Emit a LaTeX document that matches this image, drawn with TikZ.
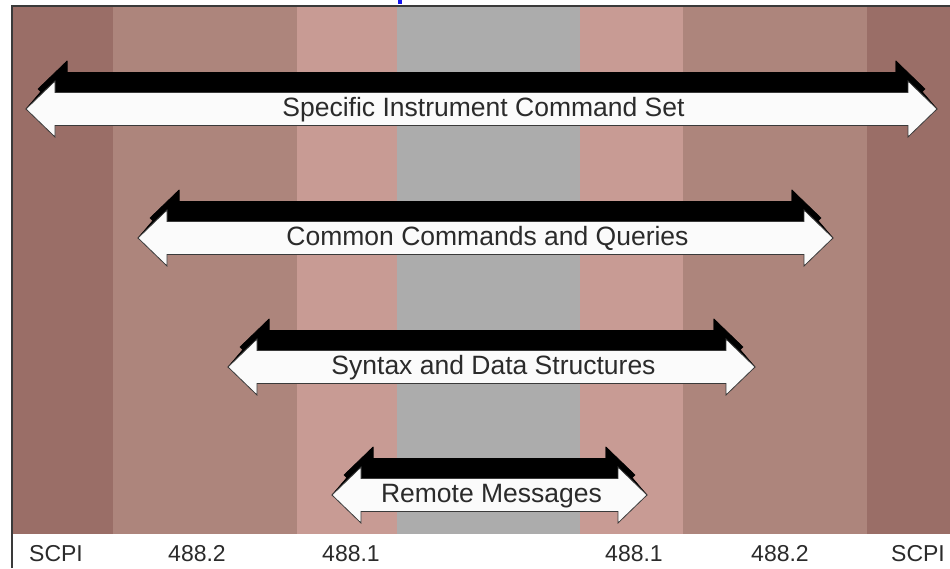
\documentclass[tikz,border=0pt]{standalone}
\usepackage{fontspec}
\setmainfont{Liberation Sans}
\usepackage{xcolor}
\definecolor{cOuter}{HTML}{9A6E67}
\definecolor{cMid}{HTML}{AD857C}
\definecolor{cInner}{HTML}{C89B94}
\definecolor{cCore}{HTML}{ACACAC}
\definecolor{cFrame}{HTML}{3A3A3A}
\definecolor{cInk}{HTML}{2B2B2B}
\definecolor{cFace}{HTML}{FBFBFB}
\definecolor{cLink}{HTML}{1414F0}
\usepackage{tikz}
\usetikzlibrary{positioning,calc}
\tikzset{
  band/.style={fill=#1,draw=none},
  arrow-back/.style={fill=black,draw=black,line width=0.6pt,line join=round},
  arrow-face/.style={fill=cFace,draw=cFrame,line width=0.8pt,line join=miter},
  arrow-text/.style={font=\fontsize{26.5}{30}\selectfont,text=cInk,inner sep=0pt,anchor=base},
  layer-text/.style={font=\fontsize{23}{27}\selectfont,text=cInk,inner sep=0pt,anchor=base},
  frame-line/.style={draw=cFrame,line width=2pt},
}
% 双向箭头：#1 名字, #2 左尖, #3 右尖, #4 中线, #5 文字
% 黑色部分 = 向上平移并缩短的副本 + 连到白色箭尖的挤出面
\newcommand{\cmdarrow}[5]{%
  \fill[arrow-back] (#2,#4) -- (#2+41,#4-48) -- (#2+41,#4) -- cycle;
  \fill[arrow-back] (#3,#4) -- (#3-41,#4-48) -- (#3-41,#4) -- cycle;
  \filldraw[arrow-back] (#2+12,#4-20) -- (#2+41,#4-48) -- (#2+41,#4-36.5)
    -- (#3-41,#4-36.5) -- (#3-41,#4-48) -- (#3-12,#4-20) -- (#3-41,#4+8)
    -- (#3-41,#4-3.5) -- (#2+41,#4-3.5) -- (#2+41,#4+8) -- cycle;
  \filldraw[arrow-face] (#2,#4) -- (#2+29,#4-28) -- (#2+29,#4-16.5)
    -- (#3-29,#4-16.5) -- (#3-29,#4-28) -- (#3,#4) -- (#3-29,#4+28)
    -- (#3-29,#4+16.5) -- (#2+29,#4+16.5) -- (#2+29,#4+28) -- cycle;
  \node[arrow-text] (#1) at ({(#2+#3)/2+2},#4+7) {#5};
}

\begin{document}
\begin{tikzpicture}[x=1pt,y=-1pt]
  \useasboundingbox (0,0) rectangle (950,568);
  \fill[white] (0,0) rectangle (950,568);
  % 色带
  \fill[band=cOuter] (12,7)  rectangle (113,534);
  \fill[band=cMid]   (113,7) rectangle (297,534);
  \fill[band=cInner] (297,7) rectangle (397,534);
  \fill[band=cCore]  (397,7) rectangle (580,534);
  \fill[band=cInner] (580,7) rectangle (683,534);
  \fill[band=cMid]   (683,7) rectangle (867,534);
  \fill[band=cOuter] (867,7) rectangle (950,534);
  \draw[frame-line] (12,568) -- (12,6) -- (950,6);
  \fill[cLink] (398,0) rectangle (402,4);

  \cmdarrow{instr}{26}{937}{109}{Specific Instrument Command Set}
  \cmdarrow{common}{138}{833}{238}{Common Commands and Queries}
  \cmdarrow{syntax}{228}{755}{367}{Syntax and Data Structures}
  \cmdarrow{remote}{332}{647}{495}{Remote Messages}

  \node[layer-text] (scpi-l)  at (56,561)  {SCPI};
  \node[layer-text] (ieee2-l) at (197,561) {488.2};
  \node[layer-text] (ieee1-l) at (351,561) {488.1};
  \node[layer-text] (ieee1-r) at (634,561) {488.1};
  \node[layer-text] (ieee2-r) at (780,561) {488.2};
  \node[layer-text] (scpi-r)  at (918,561) {SCPI};
\end{tikzpicture}
\end{document}
